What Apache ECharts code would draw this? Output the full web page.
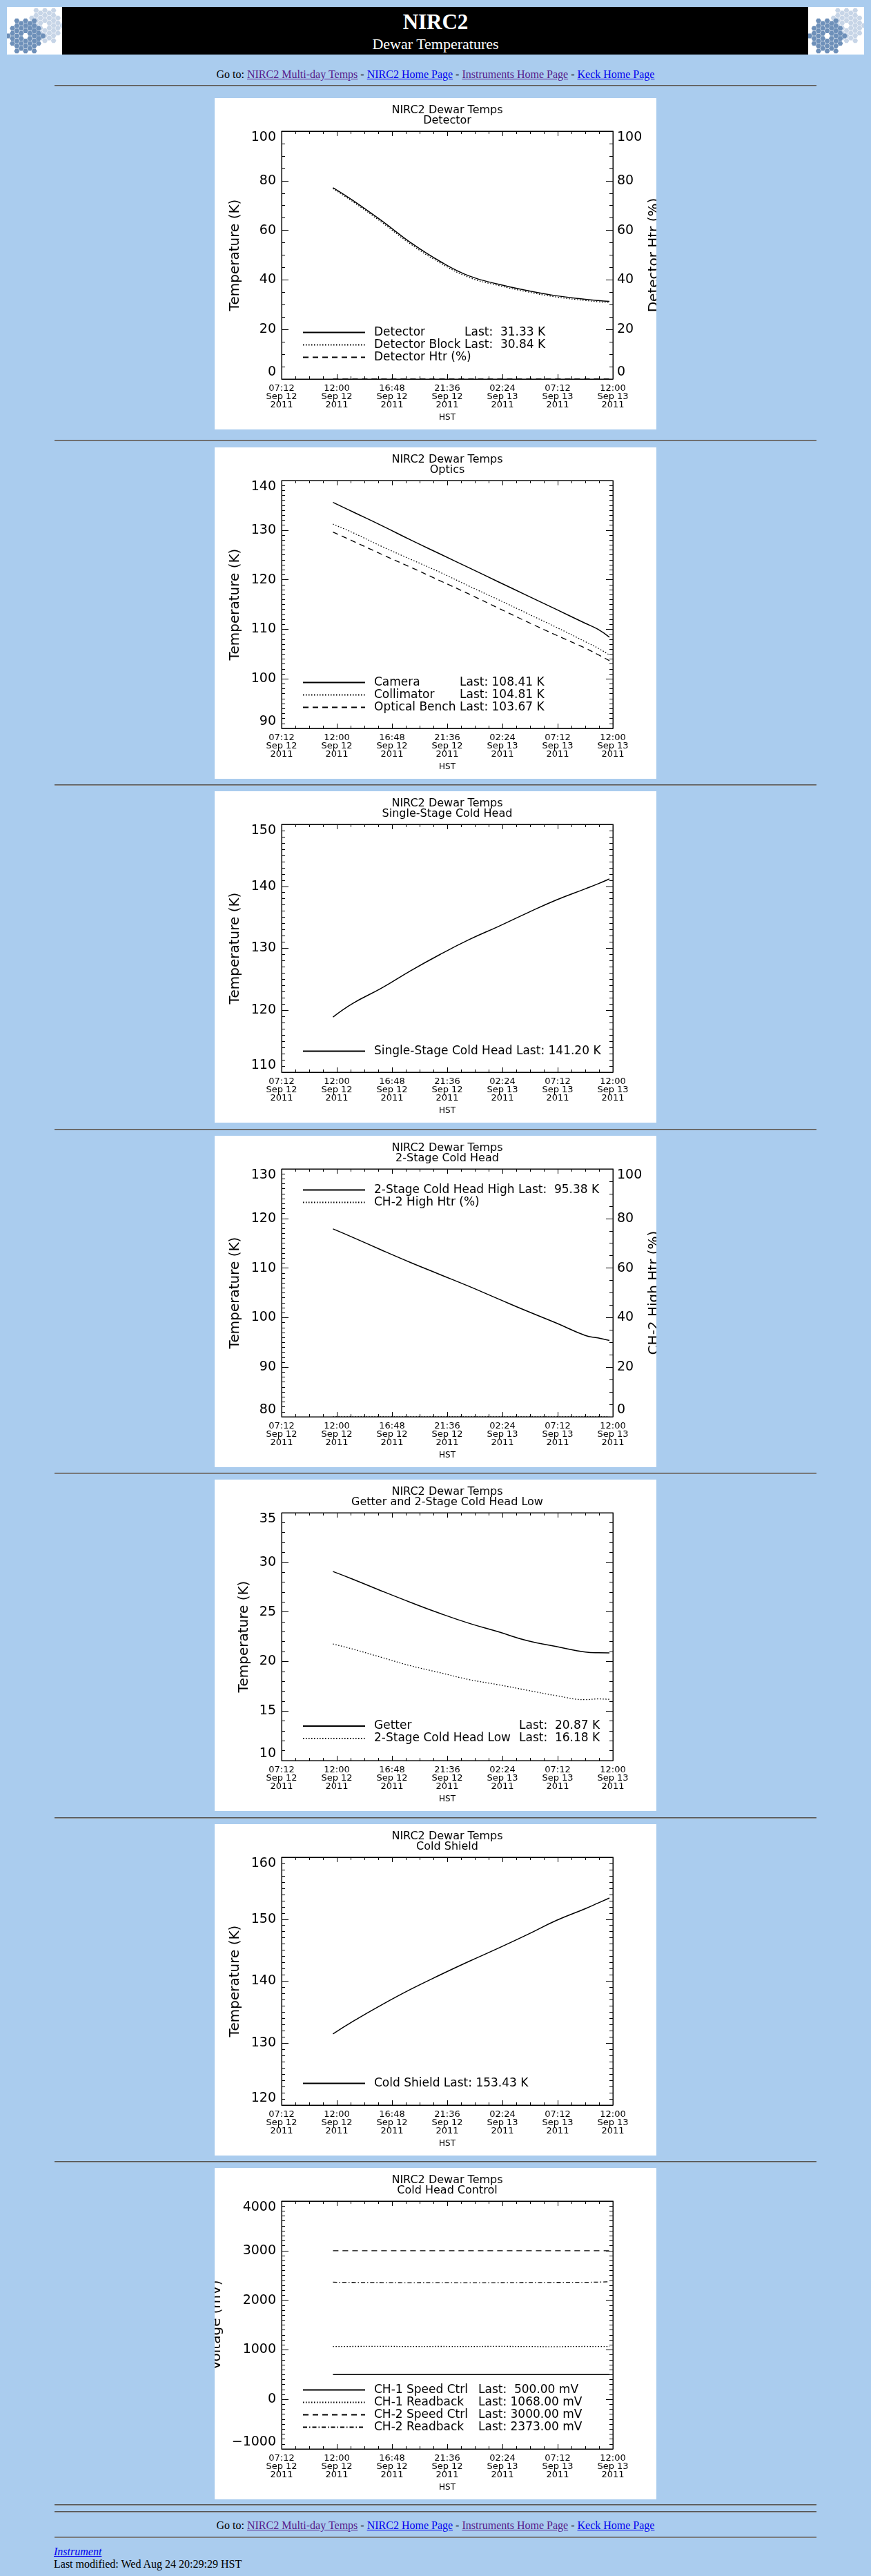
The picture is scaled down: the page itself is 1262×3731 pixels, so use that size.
<!DOCTYPE html>
<html>
<head>
<meta charset="utf-8">
<title>NIRC2 Dewar Temperatures</title>
<script src="https://cdn.jsdelivr.net/npm/echarts@6.0.0/dist/echarts.min.js"></script>
<style>
  body { margin: 0; background: #aaccee; font-family: 'Liberation Serif', 'Times New Roman', serif; }
  #page { position: relative; width: 1262px; height: 3731px; overflow: hidden; }
  #hdr { position: absolute; left: 10px; top: 10px; width: 1242px; height: 69px; background: #000; }
  .logo { position: absolute; top: 0; width: 80px; height: 69px; background: #fff; }
  #hdr .t1 { position: absolute; left: 0; width: 100%; top: 4px; text-align: center; color: #fff;
             font-size: 31px; font-weight: bold; line-height: 36px; }
  #hdr .t2 { position: absolute; left: 0; width: 100%; top: 41px; text-align: center; color: #fff;
             font-size: 22px; line-height: 26px; }
  .nav { position: absolute; left: 0; width: 1262px; text-align: center; font-size: 16px; line-height: 20px; color: #000; }
  a.v { color: #551a8b; }
  a.u { color: #0000ee; }
  .hr { position: absolute; left: 79px; width: 1104px; height: 0;
        border-top: 1px solid #555; border-bottom: 1px solid #8a8a8a; }
  .chart { position: absolute; left: 311px; width: 640px; height: 480px; background: #fff; }
  .foot { position: absolute; left: 78px; font-size: 16px; line-height: 20px; color: #000; }
</style>
</head>
<body>
<div id="page">
  <div id="hdr">
    <svg class="logo" style="left:0" viewBox="0 0 80 69"></svg>
    <div class="t1">NIRC2</div>
    <div class="t2">Dewar Temperatures</div>
    <svg class="logo" style="left:1161px;width:81px" viewBox="0 0 80 69"></svg>
  </div>
  <div class="nav" style="top:98px">Go to: <a class="v" href="#">NIRC2 Multi-day Temps</a> - <a class="u" href="#">NIRC2 Home Page</a> - <a class="v" href="#">Instruments Home Page</a> - <a class="u" href="#">Keck Home Page</a></div>
  <div class="hr" style="top:123px"></div>

  <div class="chart" id="c1" style="top:142px"></div>
  <div class="hr" style="top:637px"></div>
  <div class="chart" id="c2" style="top:648px"></div>
  <div class="hr" style="top:1136px"></div>
  <div class="chart" id="c3" style="top:1146px"></div>
  <div class="hr" style="top:1635px"></div>
  <div class="chart" id="c4" style="top:1645px"></div>
  <div class="hr" style="top:2133px"></div>
  <div class="chart" id="c5" style="top:2143px"></div>
  <div class="hr" style="top:2632px"></div>
  <div class="chart" id="c6" style="top:2642px"></div>
  <div class="hr" style="top:3130px"></div>
  <div class="chart" id="c7" style="top:3140px"></div>

  <div class="hr" style="top:3627px"></div>
  <div class="hr" style="top:3637px"></div>
  <div class="nav" style="top:3648px">Go to: <a class="v" href="#">NIRC2 Multi-day Temps</a> - <a class="u" href="#">NIRC2 Home Page</a> - <a class="v" href="#">Instruments Home Page</a> - <a class="u" href="#">Keck Home Page</a></div>
  <div class="hr" style="top:3674px"></div>
  <div class="foot" style="top:3686px"><a class="u" href="#"><i>Instrument</i></a></div>
  <div class="foot" style="top:3704px">Last modified: Wed Aug 24 20:29:29 HST</div>
</div>

<script>
// x values: minutes after 07:12 HST Sep 12 2011 (axis ends at 12:00 Sep 13 = 1728)
const sampleMinutes = [268, 371, 523, 674, 826, 978, 1129, 1281, 1433, 1584, 1650, 1710];
const timeTicks = [
  '07:12\nSep 12\n2011', '12:00\nSep 12\n2011', '16:48\nSep 12\n2011', '21:36\nSep 12\n2011',
  '02:24\nSep 13\n2011', '07:12\nSep 13\n2011', '12:00\nSep 13\n2011'
];

// Detector
const detector      = [77.2, 72.1, 63.8, 55.0, 47.5, 41.6, 38.3, 35.7, 33.6, 32.2, 31.7, 31.33];
const detectorBlock = [76.8, 71.6, 63.2, 54.4, 46.9, 41.0, 37.8, 35.2, 33.1, 31.7, 31.2, 30.84];
const detectorHtr   = [0, 0, 0, 0, 0, 0, 0, 0, 0, 0, 0, 0];
// Optics
const camera        = [135.6, 133.7, 130.9, 128.0, 125.2, 122.4, 119.6, 116.8, 114.0, 111.2, 110.0, 108.41];
const collimator    = [131.2, 129.5, 126.7, 124.1, 121.5, 118.7, 116.0, 113.2, 110.4, 107.5, 106.2, 104.81];
const opticalBench  = [129.6, 127.8, 125.1, 122.5, 119.8, 117.1, 114.3, 111.5, 108.8, 106.2, 104.9, 103.67];
// Single-stage cold head
const singleStage   = [118.9, 121.1, 123.6, 126.4, 129.0, 131.4, 133.5, 135.7, 137.8, 139.6, 140.4, 141.20];
// 2-stage cold head
const stage2High    = [117.9, 116.2, 113.6, 111.1, 108.7, 106.3, 103.8, 101.3, 98.9, 96.4, 95.9, 95.38];
const ch2HighHtr    = [0, 0, 0, 0, 0, 0, 0, 0, 0, 0, 0, 0];
// Getter and 2-stage low
const getter        = [29.07, 28.3, 27.1, 25.95, 24.85, 23.85, 23.0, 22.1, 21.5, 20.95, 20.88, 20.87];
const stage2Low     = [21.76, 21.25, 20.4, 19.56, 18.87, 18.17, 17.66, 17.1, 16.55, 16.15, 16.22, 16.18];
// Cold shield
const coldShield    = [131.5, 133.5, 136.2, 138.7, 141.0, 143.2, 145.3, 147.5, 149.8, 151.7, 152.6, 153.43];
// Cold head control (mV)
const ch1Speed      = [500, 500, 500, 500, 500, 500, 500, 500, 500, 500, 500, 500];
const ch1Readback   = [1066, 1068, 1070, 1066, 1068, 1067, 1069, 1066, 1064, 1068, 1066, 1068];
const ch2Speed      = [3000, 3000, 3000, 3000, 3000, 3000, 3000, 3000, 3000, 3000, 3000, 3000];
const ch2Readback   = [2364, 2360, 2356, 2352, 2355, 2350, 2353, 2357, 2360, 2362, 2366, 2373];

const FONT = 'DejaVu Sans';
const dashes = { solid: 'solid', dotted: [1.5, 2.5], dashed: [8, 6], dashdot: [6, 3, 1.5, 3] };

const charts = [
  { id: 'c1', sub: 'Detector', y: { min: 0, max: 100, interval: 20, minor: 4 },
    yName: 'Temperature (K)', nameGap: 57, legendTop: 331, nameCol: 131,
    right: { name: 'Detector Htr (%)', min: 0, max: 100, interval: 20, minor: 4 },
    series: [
      { name: 'Detector', last: 'Last:  31.33 K', data: detector, dash: 'solid' },
      { name: 'Detector Block', last: 'Last:  30.84 K', data: detectorBlock, dash: 'dotted' },
      { name: 'Detector Htr (%)', data: detectorHtr, dash: 'dashed', axis: 1 }
    ] },
  { id: 'c2', sub: 'Optics', y: { min: 90, max: 140, interval: 10, minor: 10 },
    yName: 'Temperature (K)', nameGap: 57, legendTop: 332, nameCol: 124,
    series: [
      { name: 'Camera', last: 'Last: 108.41 K', data: camera, dash: 'solid' },
      { name: 'Collimator', last: 'Last: 104.81 K', data: collimator, dash: 'dotted' },
      { name: 'Optical Bench', last: 'Last: 103.67 K', data: opticalBench, dash: 'dashed' }
    ] },
  { id: 'c3', sub: 'Single-Stage Cold Head', y: { min: 110, max: 150, interval: 10, minor: 10 },
    yName: 'Temperature (K)', nameGap: 57, legendTop: 368,
    series: [
      { name: 'Single-Stage Cold Head Last: 141.20 K', data: singleStage, dash: 'solid' }
    ] },
  { id: 'c4', sub: '2-Stage Cold Head', y: { min: 80, max: 130, interval: 10, minor: 10 },
    yName: 'Temperature (K)', nameGap: 57, legendTop: 70,
    right: { name: 'CH-2 High Htr (%)', min: 0, max: 100, interval: 20, minor: 4 },
    series: [
      { name: '2-Stage Cold Head High Last:  95.38 K', data: stage2High, dash: 'solid' },
      { name: 'CH-2 High Htr (%)', data: ch2HighHtr, dash: 'dotted', axis: 1 }
    ] },
  { id: 'c5', sub: 'Getter and 2-Stage Cold Head Low', y: { min: 10, max: 35, interval: 5, minor: 5 },
    yName: 'Temperature (K)', nameGap: 44, legendTop: 348.5, nameCol: 210,
    series: [
      { name: 'Getter', last: 'Last:  20.87 K', data: getter, dash: 'solid' },
      { name: '2-Stage Cold Head Low', last: 'Last:  16.18 K', data: stage2Low, dash: 'dotted' }
    ] },
  { id: 'c6', sub: 'Cold Shield', y: { min: 120, max: 160, interval: 10, minor: 10 },
    yName: 'Temperature (K)', nameGap: 57, legendTop: 367,
    series: [
      { name: 'Cold Shield Last: 153.43 K', data: coldShield, dash: 'solid' }
    ] },
  { id: 'c7', sub: 'Cold Head Control', y: { min: -1000, max: 4000, interval: 1000, minor: 10 },
    yName: 'Voltage (mV)', nameGap: 84, legendTop: 313, nameCol: 151,
    series: [
      { name: 'CH-1 Speed Ctrl', last: 'Last:  500.00 mV', data: ch1Speed, dash: 'solid' },
      { name: 'CH-1 Readback', last: 'Last: 1068.00 mV', data: ch1Readback, dash: 'dotted' },
      { name: 'CH-2 Speed Ctrl', last: 'Last: 3000.00 mV', data: ch2Speed, dash: 'dashed' },
      { name: 'CH-2 Readback', last: 'Last: 2373.00 mV', data: ch2Readback, dash: 'dashdot' }
    ] }
];

function xAxis(pos) {
  const ax = {
    type: 'value', position: pos, min: 0, max: 1728, interval: 288,
    axisLine: { show: true, onZero: false, lineStyle: { color: '#000', width: 1 } },
    axisTick: { show: true, inside: true, length: 7, lineStyle: { color: '#000' } },
    minorTick: { show: true, splitNumber: 4, length: 4, lineStyle: { color: '#000' } },
    splitLine: { show: false },
    axisLabel: { show: false }
  };
  if (pos === 'bottom') {
    ax.name = 'HST';
    ax.nameLocation = 'middle';
    ax.nameGap = 48;
    ax.nameTextStyle = { fontFamily: FONT, fontSize: 12, color: '#000' };
    ax.axisLabel = {
      show: true, margin: 8, fontFamily: FONT, fontSize: 13, lineHeight: 12, color: '#000',
      formatter: v => timeTicks[Math.round(v / 288)]
    };
  }
  return ax;
}

function yAxis(pos, r, labels, name, gap) {
  return {
    type: 'value', position: pos, min: r.min, max: r.max, interval: r.interval,
    name: name || '', nameLocation: 'middle', nameGap: gap, nameMoveOverlap: false,
    nameTextStyle: { fontFamily: FONT, fontSize: 20, color: '#000' },
    axisLine: { show: true, onZero: false, lineStyle: { color: '#000', width: 1 } },
    axisTick: { show: true, inside: true, length: 10, lineStyle: { color: '#000' } },
    minorTick: { show: true, splitNumber: r.minor, length: 5, lineStyle: { color: '#000' } },
    splitLine: { show: false },
    axisLabel: {
      show: labels, margin: pos === 'left' ? 8 : 6, fontFamily: FONT, fontSize: 19, color: '#000',
      verticalAlignMinLabel: 'bottom', verticalAlignMaxLabel: 'top',
      formatter: v => String(v).replace('-', '\u2212')
    }
  };
}

function buildOption(c) {
  const right = c.right
    ? yAxis('right', c.right, true, c.right.name, 50)
    : yAxis('right', c.y, false, '', 0);
  const txt = { fontFamily: FONT, fontSize: 17, lineHeight: 17, color: '#000' };
  return {
    animation: false,
    title: {
      text: 'NIRC2 Dewar Temps\n' + c.sub, left: 337, top: 10, textAlign: 'center', padding: 0,
      textStyle: { fontFamily: FONT, fontSize: 16, fontWeight: 'normal', lineHeight: 15, color: '#000' }
    },
    grid: { left: 97, top: 48, width: 480, height: 359, show: true, borderColor: '#000', borderWidth: 1,
            containLabel: false, outerBoundsMode: 'none' },
    xAxis: [xAxis('bottom'), xAxis('top')],
    yAxis: [yAxis('left', c.y, true, c.yName, c.nameGap), right],
    legend: {
      orient: 'vertical', left: 127, top: c.legendTop, padding: 0,
      itemWidth: 90, itemHeight: 14, itemGap: 1, selectedMode: false,
      // hide the round marker ECharts puts on line legend icons; keep only the line sample
      itemStyle: { color: 'transparent', borderColor: 'transparent', borderWidth: 0, opacity: 0 },
      data: c.series.map(s => s.name),
      formatter: name => {
        const s = c.series.find(d => d.name === name);
        return s.last ? '{a|' + name + '}{b|' + s.last + '}' : '{c|' + name + '}';
      },
      textStyle: Object.assign({}, txt, {
        rich: {
          a: Object.assign({}, txt, { width: c.nameCol, padding: [0, 0, 0, 8] }),
          b: Object.assign({}, txt),
          c: Object.assign({}, txt, { padding: [0, 0, 0, 8] })
        }
      })
    },
    series: c.series.map(s => ({
      name: s.name, type: 'line', yAxisIndex: s.axis || 0,
      data: sampleMinutes.map((t, i) => [t, s.data[i]]),
      symbol: 'none', smooth: 0.45, silent: true, color: '#000',
      itemStyle: { color: '#000' },
      lineStyle: { color: '#000', width: s.dash === 'solid' ? 1.5 : 1.3, type: dashes[s.dash] }
    }))
  };
}

charts.forEach(c => {
  const chart = echarts.init(document.getElementById(c.id), null, { renderer: 'canvas' });
  chart.setOption(buildOption(c));
});

// Keck logo: two overlapping clusters of small hexagon segments
function drawLogo(svg) {
  const ns = 'http://www.w3.org/2000/svg';
  const clusters = [
    { cx: 55, cy: 27, R: 29, fill: '#c7d5e7' },
    { cx: 27, cy: 42, R: 29, fill: '#6e90b9' }
  ];
  const r = 3.9;
  clusters.forEach(cl => {
    for (let col = -9; col <= 9; col++) {
      for (let row = -9; row <= 9; row++) {
        const x = cl.cx + col * 1.5 * r * 1.08;
        const y = cl.cy + (row + (col & 1 ? 0.5 : 0)) * Math.sqrt(3) * r * 1.08;
        const dx = Math.abs(x - cl.cx), dy = Math.abs(y - cl.cy);
        const inside = dy <= cl.R * 0.866 && dx * 0.866 + dy * 0.5 <= cl.R * 0.866;
        const hole = Math.hypot(x - cl.cx, y - cl.cy) < 6;
        if (!inside || hole) continue;
        const pts = [];
        for (let k = 0; k < 6; k++) {
          const a = Math.PI / 3 * k;
          pts.push((x + r * Math.cos(a)).toFixed(2) + ',' + (y + r * Math.sin(a)).toFixed(2));
        }
        const p = document.createElementNS(ns, 'polygon');
        p.setAttribute('points', pts.join(' '));
        p.setAttribute('fill', cl.fill);
        svg.appendChild(p);
      }
    }
  });
}
document.querySelectorAll('svg.logo').forEach(drawLogo);
</script>
</body>
</html>
